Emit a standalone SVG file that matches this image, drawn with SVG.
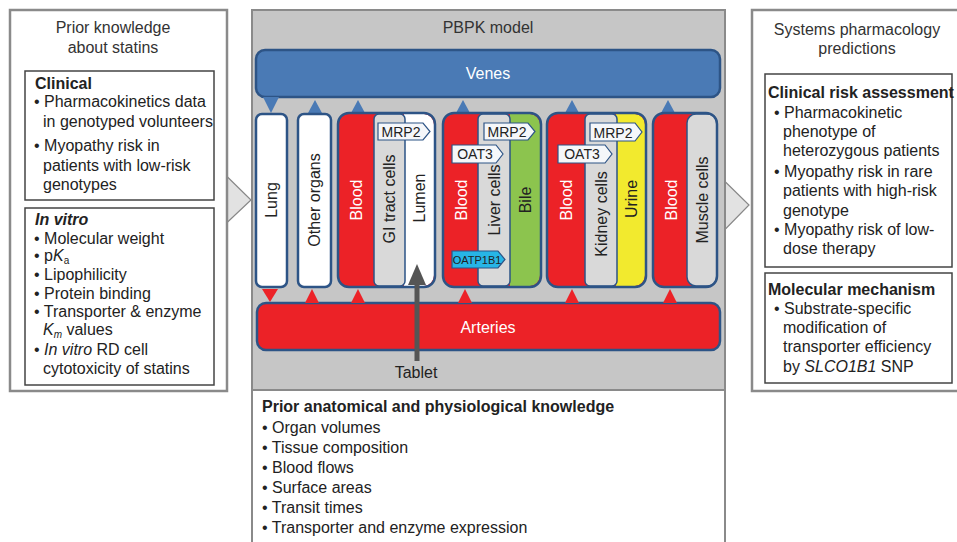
<svg xmlns="http://www.w3.org/2000/svg" width="957" height="542" viewBox="0 0 957 542">
<defs>
<style>
text{font-family:"Liberation Sans",Arial,sans-serif;fill:#222;}
.t16{font-size:16px;}
.b{font-weight:bold;}
.ttl{font-size:16px;fill:#333;}
.wht{fill:#fff;font-size:16px;}
.vl{font-size:16px;dominant-baseline:central;text-anchor:middle;}
.vw{font-size:16px;dominant-baseline:central;text-anchor:middle;fill:#fff;}
.panel{fill:#fff;stroke:#8a8a8a;stroke-width:2.5;}
.inner{fill:#fff;stroke:#444;stroke-width:1.5;}
.org{stroke:#2d5486;stroke-width:2.5;}
.cell{fill:#d9d9d9;stroke:#2d5486;stroke-width:1.5;}
.tag{fill:#f5f7fa;stroke:#2d5486;stroke-width:1.2;}
.tagt{font-size:14px;text-anchor:middle;}
.bt{fill:#4a7ab5;}
.rt{fill:#ec2227;}
.chev{fill:#e2e2e2;stroke:#888;stroke-width:1.2;}
</style>
</defs>
<rect width="957" height="542" fill="#fff"/>

<!-- chevron arrows (behind panels) -->
<g id="connectors">
<polygon class="chev" points="200,150 251,200 200,248"/>
<polygon class="chev" points="700,157 749,205 700,255"/>
</g>

<!-- left panel -->
<g id="left-panel">
<rect class="panel" x="10" y="10" width="217" height="381"/>
<text class="ttl" x="113" y="33" text-anchor="middle">Prior knowledge</text>
<text class="ttl" x="113" y="53" text-anchor="middle">about statins</text>
<rect class="inner" x="25" y="71" width="189" height="129"/>
<text class="t16 b" x="35" y="89">Clinical</text>
<text class="t16" x="34" y="107">• Pharmacokinetics data</text>
<text class="t16" x="43" y="127">in genotyped volunteers</text>
<text class="t16" x="34" y="151">• Myopathy risk in</text>
<text class="t16" x="43" y="171">patients with low-risk</text>
<text class="t16" x="43" y="190">genotypes</text>
<rect class="inner" x="25" y="208" width="189" height="177"/>
<text class="t16 b" x="35" y="225" font-style="italic">In vitro</text>
<text class="t16" x="34" y="244">• Molecular weight</text>
<text class="t16" x="34" y="261">• p<tspan font-style="italic">K</tspan><tspan font-size="10" dy="3">a</tspan></text>
<text class="t16" x="34" y="280">• Lipophilicity</text>
<text class="t16" x="34" y="299">• Protein binding</text>
<text class="t16" x="34" y="317">• Transporter &amp; enzyme</text>
<text class="t16" x="43" y="335"><tspan font-style="italic">K</tspan><tspan font-size="10" font-style="italic" dy="3">m</tspan><tspan dy="-3"> values</tspan></text>
<text class="t16" x="34" y="355">• <tspan font-style="italic">In vitro</tspan> RD cell</text>
<text class="t16" x="43" y="374">cytotoxicity of statins</text>
</g>

<!-- right panel -->
<g id="right-panel">
<rect class="panel" x="752" y="10" width="210" height="381"/>
<text class="ttl" x="857" y="35" text-anchor="middle">Systems pharmacology</text>
<text class="ttl" x="857" y="54" text-anchor="middle">predictions</text>
<rect class="inner" x="765" y="74" width="187" height="193"/>
<text class="t16 b" x="768" y="98">Clinical risk assessment</text>
<text class="t16" x="774" y="118">• Pharmacokinetic</text>
<text class="t16" x="783" y="137">phenotype of</text>
<text class="t16" x="783" y="156">heterozygous patients</text>
<text class="t16" x="774" y="177">• Myopathy risk in rare</text>
<text class="t16" x="783" y="196">patients with high-risk</text>
<text class="t16" x="783" y="216">genotype</text>
<text class="t16" x="774" y="235">• Myopathy risk of low-</text>
<text class="t16" x="783" y="254">dose therapy</text>
<rect class="inner" x="765" y="273" width="187" height="110"/>
<text class="t16 b" x="768" y="295">Molecular mechanism</text>
<text class="t16" x="774" y="314">• Substrate-specific</text>
<text class="t16" x="783" y="333">modification of</text>
<text class="t16" x="783" y="352">transporter efficiency</text>
<text class="t16" x="783" y="372">by <tspan font-style="italic">SLCO1B1</tspan> SNP</text>
</g>

<!-- middle panel -->
<g id="pbpk-panel">
<rect x="252" y="10" width="473" height="380" fill="#c6c6c6" stroke="#8a8a8a" stroke-width="2"/>
<text class="ttl" x="488" y="33" text-anchor="middle">PBPK model</text>
</g>

<g id="venes">
<rect class="org" x="256" y="50" width="464" height="47" rx="9" fill="#4a7ab5"/>
<text class="wht" x="488" y="79" text-anchor="middle">Venes</text>
</g>

<g id="arteries">
<rect class="org" x="257" y="303" width="463" height="47" rx="9" fill="#ec2227"/>
<text class="wht" x="488" y="333" text-anchor="middle">Arteries</text>
</g>

<g id="flow-arrows">
<polygon class="bt" points="263,97 279,97 271,113"/>
<polygon class="bt" points="308,113 322,113 315,100"/>
<polygon class="bt" points="351,113 365,113 358,100"/>
<polygon class="bt" points="456,113 470,113 463,100"/>
<polygon class="bt" points="565,113 579,113 572,100"/>
<polygon class="bt" points="661,113 675,113 668,100"/>
<polygon class="rt" points="262,289 278,289 270,302"/>
<polygon class="rt" points="305,303 319,303 312,289"/>
<polygon class="rt" points="351,303 365,303 358,289"/>
<polygon class="rt" points="458,303 472,303 465,289"/>
<polygon class="rt" points="565,303 579,303 572,289"/>
<polygon class="rt" points="663,303 677,303 670,289"/>
</g>

<g id="lung">
<rect class="org" x="256" y="114" width="31" height="173" rx="6" fill="#fff"/>
<text class="vl" transform="translate(271.5,200) rotate(-90)">Lung</text>
</g>

<g id="other-organs">
<rect class="org" x="298" y="114" width="33" height="173" rx="6" fill="#fff"/>
<text class="vl" transform="translate(314.5,200) rotate(-90)">Other organs</text>
</g>

<g id="gi">
<rect x="338" y="113" width="97" height="174" rx="11" fill="#ec2227"/>
<path d="M404,114 H424 A11,11 0 0 1 434,125 V275 A11,11 0 0 1 424,286 H404 Z" fill="#fff"/>
<rect class="cell" x="374" y="114" width="31" height="172" rx="5"/>
<rect class="org" x="338" y="113" width="97" height="174" rx="11" fill="none"/>
<text class="vw" transform="translate(356,200) rotate(-90)">Blood</text>
<text class="vl" transform="translate(389.5,199) rotate(-90)">GI tract cells</text>
<text class="vl" transform="translate(419.5,198) rotate(-90)">Lumen</text>
<polygon class="tag" points="378,123 423,123 430,131.5 423,140 378,140"/>
<text class="tagt" x="401" y="137">MRP2</text>
</g>

<g id="liver">
<rect x="443" y="113" width="98" height="174" rx="11" fill="#ec2227"/>
<path d="M510,114 H530 A11,11 0 0 1 540,125 V275 A11,11 0 0 1 530,286 H510 Z" fill="#8cc44e"/>
<rect class="cell" x="478" y="114" width="32" height="172" rx="5"/>
<rect class="org" x="443" y="113" width="98" height="174" rx="11" fill="none"/>
<text class="vw" transform="translate(461,200) rotate(-90)">Blood</text>
<text class="vl" transform="translate(494.5,200) rotate(-90)">Liver cells</text>
<text class="vl" transform="translate(525.5,200) rotate(-90)">Bile</text>
<polygon class="tag" points="484,123 528,123 535,131.5 528,140 484,140"/>
<text class="tagt" x="507" y="137">MRP2</text>
<polygon class="tag" points="452,145 496,145 503,154 496,163 452,163"/>
<text class="tagt" x="475" y="159">OAT3</text>
<polygon points="452,251 498,251 505,259.5 498,268 452,268" fill="#27b5e6" stroke="#2d5486" stroke-width="1.2"/>
<text x="477" y="263.5" font-size="11" text-anchor="middle">OATP1B1</text>
</g>

<g id="kidney">
<rect x="547" y="113" width="99" height="174" rx="11" fill="#ec2227"/>
<path d="M616,114 H635 A11,11 0 0 1 645,125 V275 A11,11 0 0 1 635,286 H616 Z" fill="#f2ea2e"/>
<rect class="cell" x="585" y="114" width="32" height="172" rx="5"/>
<rect class="org" x="547" y="113" width="99" height="174" rx="11" fill="none"/>
<text class="vw" transform="translate(566,200) rotate(-90)">Blood</text>
<text class="vl" transform="translate(601.5,214) rotate(-90)">Kidney cells</text>
<text class="vl" transform="translate(631.5,199) rotate(-90)">Urine</text>
<polygon class="tag" points="590,123 635,123 642,132 635,141 590,141"/>
<text class="tagt" x="613" y="137.5">MRP2</text>
<polygon class="tag" points="558,145 605,145 612,154 605,163 558,163"/>
<text class="tagt" x="582" y="159">OAT3</text>
</g>

<g id="muscle">
<rect x="653" y="113" width="64" height="174" rx="11" fill="#ec2227"/>
<rect class="cell" x="687" y="114" width="30" height="172" rx="9"/>
<rect class="org" x="653" y="113" width="64" height="174" rx="11" fill="none"/>
<text class="vw" transform="translate(671,200) rotate(-90)">Blood</text>
<text class="vl" transform="translate(702.5,200) rotate(-90)">Muscle cells</text>
</g>

<g id="tablet">
<line x1="417" y1="361" x2="417" y2="282" stroke="#555" stroke-width="5"/>
<polygon points="417,264 408,285 426,285" fill="#555"/>
<text class="t16" x="416" y="378" text-anchor="middle">Tablet</text>
</g>

<g id="prior-anatomical">
<rect x="252" y="390" width="473" height="160" fill="#fff" stroke="#8a8a8a" stroke-width="2"/>
<text class="t16 b" x="262" y="412">Prior anatomical and physiological knowledge</text>
<text class="t16" x="262" y="433">• Organ volumes</text>
<text class="t16" x="262" y="453">• Tissue composition</text>
<text class="t16" x="262" y="473">• Blood flows</text>
<text class="t16" x="262" y="493">• Surface areas</text>
<text class="t16" x="262" y="513">• Transit times</text>
<text class="t16" x="262" y="533">• Transporter and enzyme expression</text>
</g>
</svg>
